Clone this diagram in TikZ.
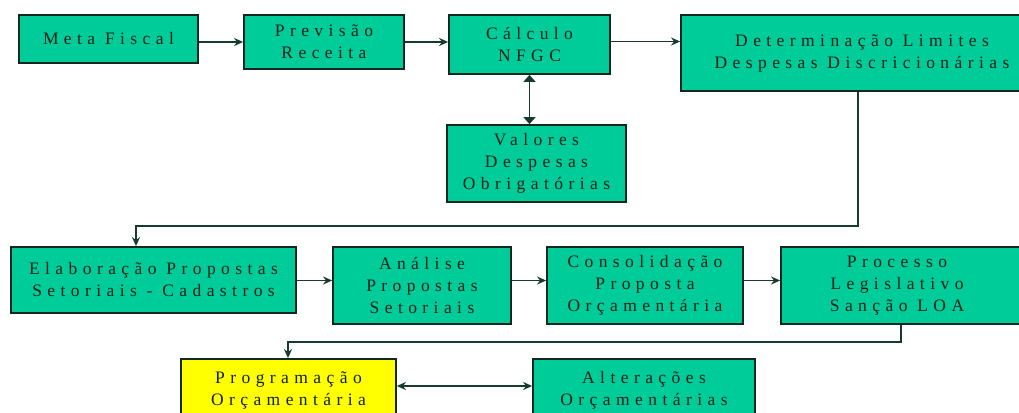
\documentclass[tikz,border=0pt]{standalone}
\usepackage{fontspec}
\newfontfamily\boxfont{Liberation Serif}[LetterSpace=31]
\usetikzlibrary{arrows.meta}
\definecolor{boxgreen}{HTML}{00CC99}
\definecolor{boxyellow}{HTML}{FFFF00}
\definecolor{bordercol}{HTML}{10281E}
\definecolor{linecol}{HTML}{163A30}
\definecolor{txtcol}{HTML}{10201A}
\begin{document}
\begin{tikzpicture}[x=1pt,y=-1pt,
  box/.style={draw=bordercol, line width=1.8pt, fill=boxgreen, inner sep=0pt,
    align=center, text=txtcol, font=\boxfont\fontsize{17.5}{22}\selectfont},
  boxtext/.style={inner sep=0pt, align=center, text=txtcol,
    font=\boxfont\fontsize{17.5}{22}\selectfont},
  conn/.style={draw=linecol, line width=1.7pt},
  tip/.style={-{Stealth[length=9pt,width=8pt]}},
  dtip/.style={{Stealth[length=9pt,width=8pt]}-{Stealth[length=9pt,width=8pt]}},
  bigtip/.style={{Triangle[length=7pt,width=12pt]}-{Triangle[length=7pt,width=12pt]}}]
\clip (0,0) rectangle (1019,412);
\fill[white] (0,0) rectangle (1019,412);

% row 1
\node[box, minimum width=179pt, minimum height=48pt] (meta) at (108.5,39) {Meta Fiscal};
\node[box, minimum width=160pt, minimum height=54pt] (prev) at (324,42) {Previsão\\Receita};
\node[box, minimum width=161pt, minimum height=59pt] (calc) at (529.5,44.5) {Cálculo\\NFGC};
\node[box, minimum width=362pt, minimum height=76pt] (det) at (862,53) {Determinação Limites\\Despesas Discricionárias};
\node[box, minimum width=179pt, minimum height=77pt] (val) at (536.5,163.5) {Valores\\Despesas\\Obrigatórias};

% row 2
\node[box, minimum width=285pt, minimum height=66pt] (elab) at (153.5,280) {Elaboração Propostas\\Setoriais - Cadastros};
\node[box, minimum width=178pt, minimum height=77pt] (anal) at (422,285.5) {Análise\\Propostas\\Setoriais};
\node[box, minimum width=196pt, minimum height=77pt] (cons) at (645,285.5) {Consolidação\\Proposta\\Orçamentária};
\node[box, minimum width=260pt, minimum height=77pt] (proc) at (911,285.5) {};
\node[boxtext] (proct) at (897,285.5) {Processo\\Legislativo\\Sanção LOA};

% row 3
\node[box, fill=boxyellow, minimum width=215pt, minimum height=62pt] (prog) at (288.5,390) {Programação\\Orçamentária};
\node[box, minimum width=222pt, minimum height=62pt] (alt) at (644,390) {Alterações\\Orçamentárias};

% helper coordinates
\coordinate (r1) at (0,41.5);
\coordinate (k1) at (858,226);
\coordinate (k2) at (136,226);
\coordinate (k3) at (901,342);
\coordinate (k4) at (288,342);
\coordinate (r2) at (0,386);
\coordinate (r3) at (0,280.5);

% connectors
\draw[conn,tip] (meta.east |- prev.west) -- (prev.west);
\draw[conn,tip] (prev.east) -- (prev.east -| calc.west);
\draw[conn,tip] (calc.east |- r1) -- (det.west |- r1);
\draw[conn,bigtip] (calc.south) -- (calc.south |- val.north);
\draw[conn,tip] (det.south -| k1) -- (k1) -- (k2) -- (k2 |- elab.north);
\draw[conn,tip] (elab.east |- r3) -- (anal.west |- r3);
\draw[conn,tip] (anal.east |- r3) -- (cons.west |- r3);
\draw[conn,tip] (cons.east |- r3) -- (proc.west |- r3);
\draw[conn,tip] (proc.south -| k3) -- (k3) -- (k4) -- (k4 |- prog.north);
\draw[conn,dtip] (prog.east |- r2) -- (alt.west |- r2);
\end{tikzpicture}
\end{document}
